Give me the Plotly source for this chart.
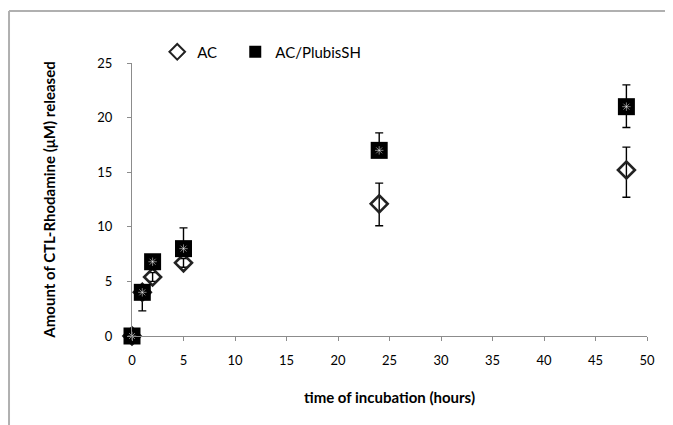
import plotly.graph_objects as go

# ---- data ----
time_h = [0, 1, 2, 5, 24, 48]
ac_vals = [0, 4.0, 5.4, 6.7, 12.1, 15.2]
ac_err_plus = [0, 0.4, 0.4, 0.4, 1.9, 2.1]
ac_err_minus = [0, 1.7, 0.4, 0.4, 2.0, 2.5]

pl_vals = [0, 4.0, 6.8, 8.0, 17.0, 21.0]
pl_err_plus = [0, 0.4, 0.4, 1.9, 1.6, 2.0]
pl_err_minus = [0, 0.4, 0.4, 0.4, 0.4, 1.9]

x_ticks = [0, 5, 10, 15, 20, 25, 30, 35, 40, 45, 50]
y_ticks = [0, 5, 10, 15, 20, 25]

FONT = "Lato"

fig = go.Figure()

fig.add_trace(go.Scatter(
    x=time_h, y=ac_vals, mode="markers", name="AC", legend="legend",
    marker=dict(symbol="diamond-open", size=13, color="#222222",
                line=dict(width=2.6, color="#222222")),
    error_y=dict(type="data", symmetric=False, array=ac_err_plus,
                 arrayminus=ac_err_minus, color="black", thickness=1.4, width=4),
    cliponaxis=False,
))

fig.add_trace(go.Scatter(
    x=time_h, y=pl_vals, mode="markers", name="AC/PlubisSH", legend="legend2",
    marker=dict(symbol="square", size=17, color="black",
                line=dict(width=0)),
    error_y=dict(type="data", symmetric=False, array=pl_err_plus,
                 arrayminus=pl_err_minus, color="black", thickness=1.4, width=4),
    cliponaxis=False,
))

# faint white speckle texture on the squares
fig.add_trace(go.Scatter(
    x=time_h, y=pl_vals, mode="markers", showlegend=False, hoverinfo="skip",
    marker=dict(symbol="asterisk-open", size=7, color="rgba(255,255,255,0.5)",
                line=dict(width=1, color="rgba(255,255,255,0.5)")),
    cliponaxis=False,
))

axis_color = "#8c8c8c"
legend_common = dict(orientation="h", y=1.04, xanchor="left", yanchor="middle",
                     font=dict(family=FONT, size=15), itemwidth=30,
                     bgcolor="rgba(0,0,0,0)", itemsizing="constant")

fig.update_layout(
    width=673, height=425,
    margin=dict(l=124, r=34, t=55, b=97),
    paper_bgcolor="white", plot_bgcolor="white",
    font=dict(family=FONT, size=13, color="black"),
    showlegend=True,
    legend=dict(x=0.049, **legend_common),
    legend2=dict(x=0.2005, **legend_common),
    xaxis=dict(
        range=[0, 50], tickvals=x_ticks, ticktext=[str(v) for v in x_ticks],
        showgrid=False, zeroline=False, showline=True, linecolor=axis_color,
        linewidth=1.3, ticks="outside", ticklen=4, tickcolor=axis_color,
        ticklabelstandoff=8,
        tickfont=dict(family=FONT, size=13),
        title=dict(text="<b>time of incubation (hours)</b>", standoff=25,
                   font=dict(family=FONT, size=15)),
    ),
    yaxis=dict(
        range=[0, 25], tickvals=y_ticks, ticktext=[str(v) for v in y_ticks],
        showgrid=False, zeroline=False, showline=True, linecolor=axis_color,
        linewidth=1.3, ticks="outside", ticklen=4, tickcolor=axis_color,
        ticklabelstandoff=12,
        tickfont=dict(family=FONT, size=13),
        title=dict(text="<b>Amount of CTL-Rhodamine (μM) released</b>", standoff=37,
                   font=dict(family=FONT, size=15)),
    ),
)

# chart-area frame (top and left edges)
frame_color = "#b0b0b0"
fig.add_shape(type="line", xref="paper", yref="paper",
              x0=-0.2388, x1=1.06, y0=1.1905, y1=1.1905,
              line=dict(color=frame_color, width=2))
fig.add_shape(type="line", xref="paper", yref="paper",
              x0=-0.2388, x1=-0.2388, y0=1.1905, y1=-0.33,
              line=dict(color=frame_color, width=2))

fig.write_html("out.html")
